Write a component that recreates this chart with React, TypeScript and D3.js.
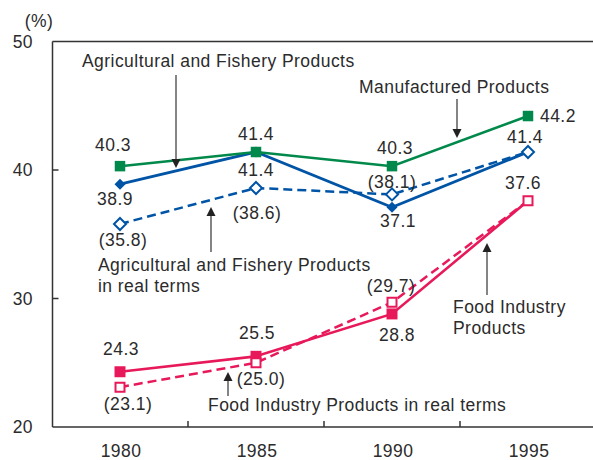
import React from "react";
import * as d3 from "d3";

const years = [1980, 1985, 1990, 1995];
const manufactured = [40.3, 41.4, 40.3, 44.2];
const agri = [38.9, 41.4, 37.1, 41.4];
const agriReal = [35.8, 38.6, 38.1, 41.4];
const food = [24.3, 25.5, 28.8, 37.6];
const foodReal = [23.1, 25.0, 29.7, 37.6];
const yTicks = [20, 30, 40, 50];

const manufacturedLabels = ["40.3", "41.4", "40.3", "44.2"];
const agriLabels = ["38.9", "41.4", "37.1", "41.4"];
const agriRealLabels = ["(35.8)", "(38.6)", "(38.1)", ""];
const foodLabels = ["24.3", "25.5", "28.8", "37.6"];
const foodRealLabels = ["(23.1)", "(25.0)", "(29.7)", ""];

const W = 593;
const H = 460;
const LEFT = 52.5;
const TOP = 41.5;
const BOTTOM = 427;

const GREEN = "#00894B";
const BLUE = "#0054A6";
const PINK = "#E8195A";
const TEXT = "#2b2b2b";
const FONT = "'Liberation Sans', Arial, Helvetica, sans-serif";

const x = d3.scaleLinear().domain([1980, 1995]).range([120, 528]);
const y = d3.scaleLinear().domain([20, 50]).range([BOTTOM, TOP]);

type Off = { dx: number; dy: number; anchor?: string };

const manufacturedOff: Off[] = [
  { dx: -7, dy: -15 },
  { dx: 0, dy: -12 },
  { dx: 3, dy: -12 },
  { dx: 12, dy: 6, anchor: "start" },
];
const agriOff: Off[] = [
  { dx: -5, dy: 21 },
  { dx: 0, dy: 24 },
  { dx: 6, dy: 20 },
  { dx: -3, dy: -9 },
];
const agriRealOff: Off[] = [
  { dx: 3, dy: 22 },
  { dx: 1, dy: 31 },
  { dx: 0, dy: -6 },
  { dx: 0, dy: 0 },
];
const foodOff: Off[] = [
  { dx: 1, dy: -17 },
  { dx: 1, dy: -17 },
  { dx: 5, dy: 27 },
  { dx: -5, dy: -12 },
];
const foodRealOff: Off[] = [
  { dx: 8, dy: 23 },
  { dx: 5, dy: 22 },
  { dx: -1, dy: -10 },
  { dx: 0, dy: 0 },
];

type Annot = { lines: string[]; tx: number; ty: number; ax: number; y1: number; y2: number };
const annotations: Annot[] = [
  { lines: ["Agricultural and Fishery Products"], tx: 82, ty: 67, ax: 176, y1: 75, y2: 168 },
  { lines: ["Manufactured Products"], tx: 359, ty: 93, ax: 457, y1: 99, y2: 138 },
  {
    lines: ["Agricultural and Fishery Products", "in real terms"],
    tx: 98, ty: 271, ax: 211, y1: 252, y2: 207,
  },
  { lines: ["Food Industry", "Products"], tx: 453, ty: 313, ax: 487, y1: 295, y2: 243 },
  { lines: ["Food Industry Products in real terms"], tx: 208, ty: 411, ax: 228, y1: 396, y2: 372 },
];

const textStyle: React.CSSProperties = {
  fontFamily: FONT,
  fontSize: 17.5,
  letterSpacing: "0.45px",
  fill: TEXT,
};

function linePath(vals: number[]) {
  return (
    d3
      .line<number>()
      .x((_, i) => x(years[i]))
      .y((v) => y(v))(vals) || ""
  );
}

function square(cx: number, cy: number, s: number) {
  return `M${cx - s / 2},${cy - s / 2}h${s}v${s}h${-s}Z`;
}
function diamond(cx: number, cy: number, r: number) {
  return `M${cx},${cy - r}L${cx + r},${cy}L${cx},${cy + r}L${cx - r},${cy}Z`;
}

function Labels({ vals, labels, offs }: { vals: number[]; labels: string[]; offs: Off[] }) {
  return (
    <g>
      {vals.map((v, i) =>
        labels[i] ? (
          <text
            key={i}
            x={x(years[i]) + offs[i].dx}
            y={y(v) + offs[i].dy}
            textAnchor={offs[i].anchor || "middle"}
            style={textStyle}
          >
            {labels[i]}
          </text>
        ) : null
      )}
    </g>
  );
}

export default function App() {
  const midTicks = years.slice(0, -1).map((yr) => yr + 2.5);
  return (
    <svg
      width={W}
      height={H}
      style={{ position: "absolute", left: 0, top: 0, background: "#fff" }}
    >
      {/* frame */}
      <g stroke="#333" strokeWidth={1.5} fill="none">
        <line x1={LEFT} y1={TOP} x2={W} y2={TOP} />
        <line x1={LEFT} y1={BOTTOM} x2={W} y2={BOTTOM} />
        <line x1={LEFT} y1={TOP} x2={LEFT} y2={BOTTOM} />
        {yTicks
          .filter((t) => t !== 20 && t !== 50)
          .map((t) => (
            <line key={t} x1={LEFT} x2={LEFT + 6} y1={y(t)} y2={y(t)} />
          ))}
        {midTicks.map((t) => (
          <line key={t} x1={x(t)} x2={x(t)} y1={BOTTOM} y2={BOTTOM - 6} />
        ))}
      </g>
      {/* y labels */}
      {yTicks.map((t) => (
        <text key={t} x={33} y={y(t) + 6} textAnchor="end" style={textStyle}>
          {t}
        </text>
      ))}
      <text x={39} y={27} textAnchor="middle" style={textStyle}>
        (%)
      </text>
      {/* x labels */}
      {years.map((yr) => (
        <text key={yr} x={x(yr) + 1} y={457} textAnchor="middle" style={textStyle}>
          {yr}
        </text>
      ))}

      {/* lines */}
      <path d={linePath(agriReal)} fill="none" stroke={BLUE} strokeWidth={2.5} strokeDasharray="9,5" />
      <path d={linePath(foodReal)} fill="none" stroke={PINK} strokeWidth={2.5} strokeDasharray="9,5" />
      <path d={linePath(agri)} fill="none" stroke={BLUE} strokeWidth={2.8} />
      <path d={linePath(food)} fill="none" stroke={PINK} strokeWidth={2.6} />
      <path d={linePath(manufactured)} fill="none" stroke={GREEN} strokeWidth={2.5} />

      {/* markers */}
      {agri.slice(0, 3).map((v, i) => (
        <path key={"a" + i} d={diamond(x(years[i]), y(v), 5.5)} fill={BLUE} />
      ))}
      {agriReal.map((v, i) => (
        <path
          key={"ar" + i}
          d={diamond(x(years[i]), y(v), 6)}
          fill="#fff"
          stroke={BLUE}
          strokeWidth={2}
        />
      ))}
      {manufactured.map((v, i) => (
        <path key={"m" + i} d={square(x(years[i]), y(v), 10.5)} fill={GREEN} />
      ))}
      {food.slice(0, 3).map((v, i) => (
        <path key={"f" + i} d={square(x(years[i]), y(v), 11)} fill={PINK} />
      ))}
      {foodReal.map((v, i) => (
        <path
          key={"fr" + i}
          d={square(x(years[i]), y(v), 9)}
          fill="#fff"
          stroke={PINK}
          strokeWidth={2}
        />
      ))}

      {/* value labels */}
      <Labels vals={manufactured} labels={manufacturedLabels} offs={manufacturedOff} />
      <Labels vals={agri} labels={agriLabels} offs={agriOff} />
      <Labels vals={agriReal} labels={agriRealLabels} offs={agriRealOff} />
      <Labels vals={food} labels={foodLabels} offs={foodOff} />
      <Labels vals={foodReal} labels={foodRealLabels} offs={foodRealOff} />

      {/* annotations */}
      {annotations.map((a, i) => {
        const dir = a.y2 > a.y1 ? 1 : -1;
        const headLen = 9;
        const baseY = a.y2 - dir * headLen;
        return (
          <g key={i}>
            <line x1={a.ax} x2={a.ax} y1={a.y1} y2={baseY} stroke="#333" strokeWidth={1.2} />
            <path
              d={`M${a.ax},${a.y2}L${a.ax - 4.5},${baseY}L${a.ax + 4.5},${baseY}Z`}
              fill="#222"
            />
            {a.lines.map((ln, j) => (
              <text key={j} x={a.tx} y={a.ty + j * 21} style={textStyle}>
                {ln}
              </text>
            ))}
          </g>
        );
      })}
    </svg>
  );
}
